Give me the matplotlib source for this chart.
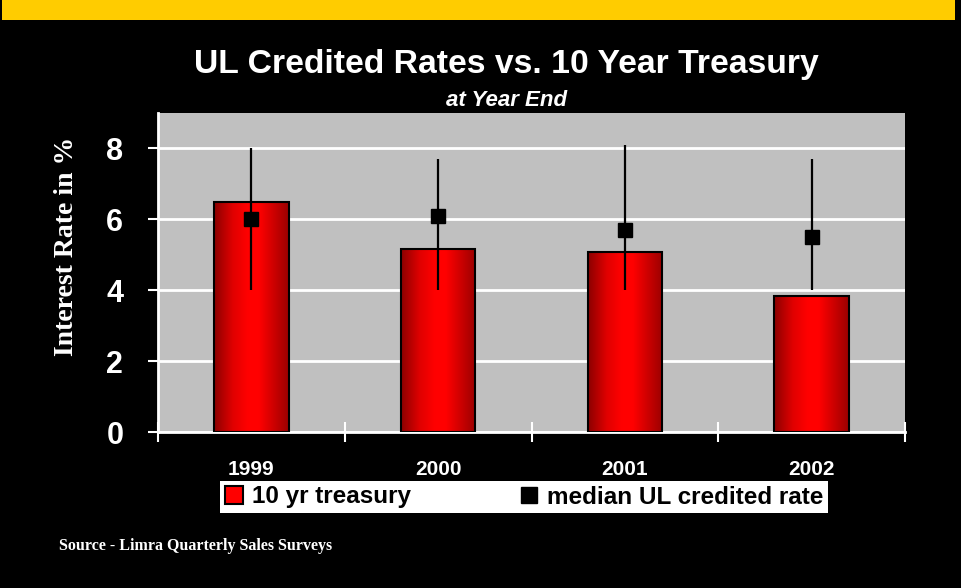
import numpy as np
import matplotlib.pyplot as plt
from matplotlib.patches import Patch, Rectangle
from matplotlib.lines import Line2D
from matplotlib.colors import LinearSegmentedColormap

years = ['1999', '2000', '2001', '2002']
treasury = [6.5, 5.15, 5.07, 3.83]
median_ul = [6.0, 6.1, 5.7, 5.5]
ul_low = [4.0, 4.0, 4.0, 4.0]
ul_high = [8.0, 7.7, 8.1, 7.7]

fig = plt.figure(figsize=(9.61, 5.88), dpi=100, facecolor='black')

# yellow stripe at the top
fig.add_artist(Rectangle((0.002, 1 - 20 / 588), 0.992, 20 / 588, transform=fig.transFigure,
                         facecolor='#FFCC00', edgecolor='none'))

ax = fig.add_axes([158 / 961, 1 - 432 / 588, (905 - 158) / 961, (432 - 113) / 588])
ax.set_facecolor('#C0C0C0')

x = np.arange(len(years))
bars = ax.bar(x, treasury, width=0.4, facecolor='none', edgecolor='black', linewidth=1.5, zorder=3)

# horizontal red gradient inside each bar
red_cmap = LinearSegmentedColormap.from_list('redgrad', [
    (0.0, '#8B0000'), (0.25, '#E00000'), (0.45, '#FF0000'), (0.6, '#FF0000'), (1.0, '#9A0000')])
grad = np.linspace(0, 1, 256).reshape(1, -1)
for b in bars:
    im = ax.imshow(grad, cmap=red_cmap, aspect='auto', zorder=2,
                   extent=[b.get_x(), b.get_x() + b.get_width(), 0, b.get_height()])
    im.set_clip_path(b)

# median markers with range lines
ax.vlines(x, ul_low, ul_high, colors='black', linewidth=1.6, zorder=4)
ax.plot(x, median_ul, linestyle='none', marker='s', markersize=10, color='black', zorder=5)

ax.set_xlim(-0.5, len(years) - 0.5)
ax.set_ylim(0, 9)
ax.set_yticks([0, 2, 4, 6, 8])
ax.yaxis.grid(True, color='white', linewidth=2, zorder=1)
ax.set_axisbelow(True)

ax.set_xticks(x)
ax.set_xticklabels(years, color='white', fontsize=15, fontweight='bold', family='Liberation Sans')
ax.set_xticks(np.arange(-0.5, len(years)), minor=True)
ax.tick_params(axis='x', which='major', length=0, pad=20)
ax.tick_params(axis='x', which='minor', direction='inout', length=14, width=1.5, color='white')
ax.tick_params(axis='y', colors='white', length=7, width=1.5, pad=18)
for lab in ax.get_yticklabels():
    lab.set_fontsize(22)
    lab.set_fontweight('bold')
    lab.set_family('Liberation Sans')

for s in ['top', 'right']:
    ax.spines[s].set_visible(False)
for s in ['left', 'bottom']:
    ax.spines[s].set_color('white')
    ax.spines[s].set_linewidth(2)

ax.set_ylabel('Interest Rate in %', color='white', fontsize=20, fontweight='bold',
              family='Liberation Serif')
ax.yaxis.set_label_coords(-0.106, 0.583)

fig.text(0.527, 1 - 65 / 588, 'UL Credited Rates vs. 10 Year Treasury', color='white',
         fontsize=24.3, fontweight='bold', family='Liberation Sans', ha='center', va='center')
fig.text(0.527, 1 - 101 / 588, 'at Year End', color='white', fontsize=16, fontweight='bold',
         fontstyle='italic', family='Liberation Sans', ha='center', va='center')
fig.text(59 / 961, 1 - 546 / 588, 'Source - Limra Quarterly Sales Surveys', color='white',
         fontsize=11.5, fontweight='bold', family='Liberation Serif', ha='left', va='center')

handles = [Patch(facecolor='#FF0000', edgecolor='black', linewidth=1.5),
           Line2D([], [], linestyle='none', marker='s', markersize=11, color='black')]
leg = fig.legend(handles, ['10 yr treasury', 'median UL credited rate'], loc='center',
                 bbox_to_anchor=(524 / 961, 1 - 497 / 588), ncol=2, frameon=True,
                 fancybox=False, edgecolor='none', facecolor='white', framealpha=1,
                 handlelength=0.75, handleheight=0.75, handletextpad=0.35, columnspacing=4.5,
                 borderpad=0.2, prop={'family': 'Liberation Sans', 'weight': 'bold', 'size': 17.5})

fig.savefig('out.png', dpi=100, facecolor='black')
